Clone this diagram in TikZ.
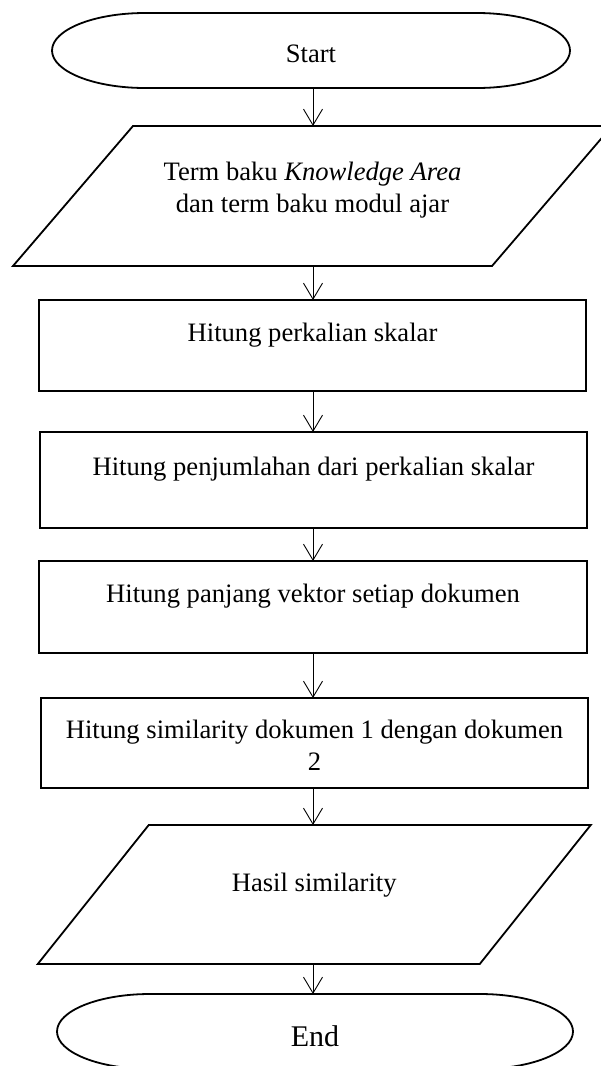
\documentclass[tikz,border=0pt]{standalone}
\usepackage{fontspec}
\setmainfont{Liberation Serif}
\usetikzlibrary{arrows.meta,calc}

\tikzset{
  area/.style n args={2}{draw=none, inner sep=0pt, outer sep=0pt,
    minimum width=#1, minimum height=#2},
  procbox/.style n args={2}{draw, line width=1.8pt, inner sep=0pt, outer sep=0pt,
    minimum width=#1, minimum height=#2},
  outline/.style={line width=1.8pt, line join=miter},
  txt/.style={font=\fontsize{26.6}{32}\selectfont, align=center, inner sep=0pt},
  bigtxt/.style={font=\fontsize{30}{34}\selectfont, align=center, inner sep=0pt},
  flow/.style={-{Straight Barb[length=16pt,width=19pt]}, line width=0.9pt},
}

\begin{document}
\begin{tikzpicture}[x=1pt,y=-1pt]
  \useasboundingbox (0,0) rectangle (600,1066);
  \coordinate (ax) at (313,0);

  % Start terminator
  \node[area={518pt}{75pt}] (start) at (311,50.5) {};
  \draw[outline] ($(start.north west)+(93,0)$) -- ($(start.north east)+(-93,0)$)
    arc[start angle=90, end angle=-90, x radius=93pt, y radius=37.5pt]
    -- ($(start.south west)+(93,0)$)
    arc[start angle=270, end angle=90, x radius=93pt, y radius=37.5pt] -- cycle;
  \node[txt] (startlbl) at (311,53.5) {Start};

  % Input parallelogram
  \node[area={479pt}{140pt}] (input) at (312.5,196) {};
  \draw[outline] ($(input.north west)+(60,0)$) -- ($(input.north east)+(60,0)$)
    -- ($(input.south east)+(-60,0)$) -- ($(input.south west)+(-60,0)$) -- cycle;
  \node[txt] (inputlbl) at (312.5,190) {Term baku \textit{Knowledge Area}\\dan term baku modul ajar};

  % Process boxes
  \node[procbox={547pt}{91pt}] (mult) at (312.5,345.5) {};
  \node[txt] (multlbl) at (312.5,335) {Hitung perkalian skalar};

  \node[procbox={547pt}{96pt}] (sum) at (313.5,480) {};
  \node[txt] (sumlbl) at (313.5,469) {Hitung penjumlahan dari perkalian skalar};

  \node[procbox={548pt}{92pt}] (len) at (313,607) {};
  \node[txt] (lenlbl) at (313,596) {Hitung panjang vektor setiap dokumen};

  \node[procbox={547pt}{90pt}] (sim) at (314.5,743) {};
  \node[txt] (simlbl) at (314.5,745) {Hitung similarity dokumen 1 dengan dokumen\\2};

  % Output parallelogram
  \node[area={442pt}{139pt}] (result) at (314.25,894.5) {};
  \draw[outline] ($(result.north west)+(55.5,0)$) -- ($(result.north east)+(55.5,0)$)
    -- ($(result.south east)+(-55.5,0)$) -- ($(result.south west)+(-55.5,0)$) -- cycle;
  \node[txt] (resultlbl) at (314.25,885) {Hasil similarity};

  % End terminator
  \node[area={516pt}{75pt}] (stop) at (315,1031.5) {};
  \draw[outline] ($(stop.north west)+(93,0)$) -- ($(stop.north east)+(-93,0)$)
    arc[start angle=90, end angle=-90, x radius=93pt, y radius=37.5pt]
    -- ($(stop.south west)+(93,0)$)
    arc[start angle=270, end angle=90, x radius=93pt, y radius=37.5pt] -- cycle;
  \node[bigtxt] (stoplbl) at (315,1036) {End};

  % Connectors
  \draw[flow] (start.south -| ax) -- (input.north -| ax);
  \draw[flow] (input.south -| ax) -- (mult.north -| ax);
  \draw[flow] (mult.south -| ax) -- (sum.north -| ax);
  \draw[flow] (sum.south -| ax) -- (len.north -| ax);
  \draw[flow] (len.south -| ax) -- (sim.north -| ax);
  \draw[flow] (sim.south -| ax) -- (result.north -| ax);
  \draw[flow] (result.south -| ax) -- (stop.north -| ax);
\end{tikzpicture}
\end{document}
